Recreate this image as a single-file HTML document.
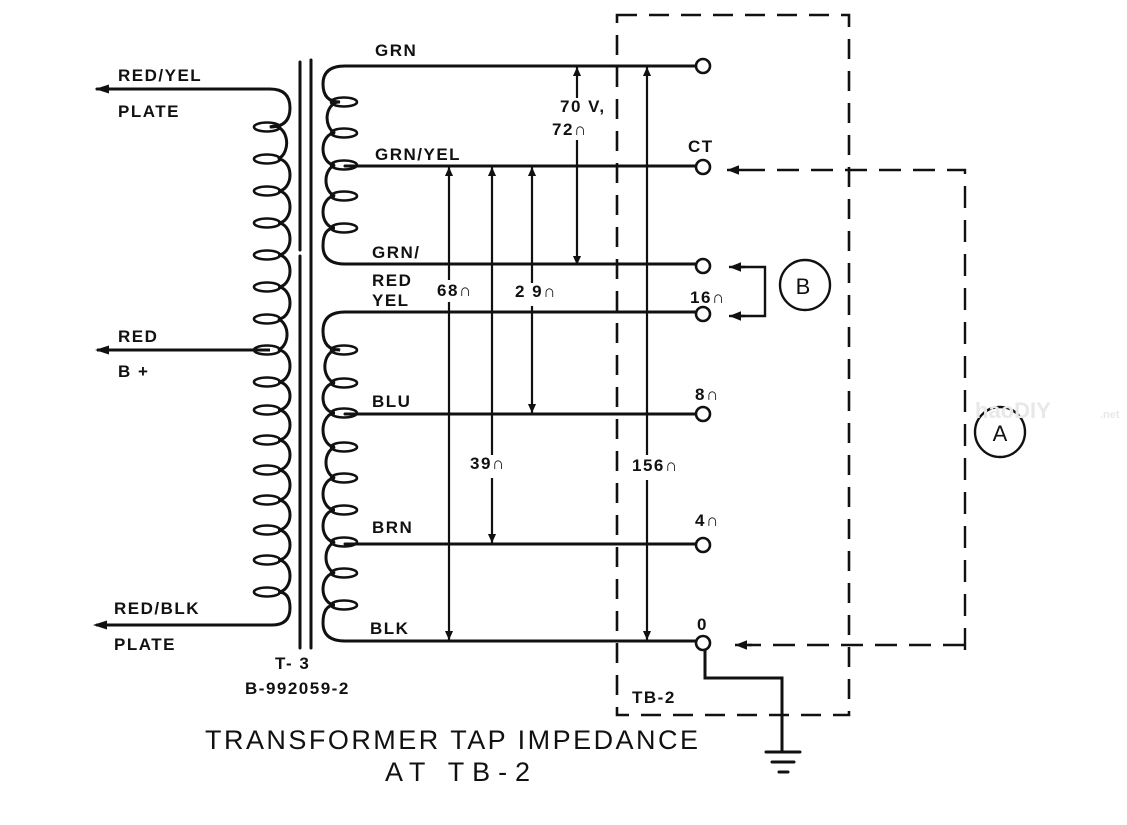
<!DOCTYPE html>
<html><head><meta charset="utf-8"><style>
html,body{margin:0;padding:0;background:#fff}
svg{display:block}
text{font-family:"Liberation Sans",sans-serif;font-weight:bold;fill:#111}
text.n{font-weight:normal}
</style></head><body>
<svg width="1127" height="825" viewBox="0 0 1127 825" xmlns="http://www.w3.org/2000/svg">
<defs>
<marker id="ah" viewBox="0 0 10 10" refX="10" refY="5" markerWidth="14" markerHeight="9" markerUnits="userSpaceOnUse" orient="auto-start-reverse"><path d="M0,0.5 L10,5 L0,9.5 Z" fill="#111"/></marker>
<marker id="ahb" viewBox="0 0 10 10" refX="10" refY="5" markerWidth="16" markerHeight="12" markerUnits="userSpaceOnUse" orient="auto-start-reverse"><path d="M0,1 L10,5 L0,9 Z" fill="#111"/></marker>
</defs>
<g stroke="#111" stroke-width="3" fill="none" stroke-linecap="round">
<path d="M97 89 H270 Q290 89 290 108 Q290 127 270 127
A12 16 0 0 1 278 159 A12 16 0 0 1 278 191 A12 16 0 0 1 278 223 A12 16 0 0 1 278 255 A12 16 0 0 1 278 287 A12 16 0 0 1 278 319 A12 16 0 0 1 278 350
A12 16 0 0 1 278 382 A12 14 0 0 1 278 410 A12 15 0 0 1 278 440 A12 15 0 0 1 278 470 A12 15 0 0 1 278 500 A12 15 0 0 1 278 530 A12 15 0 0 1 278 560 A12 16 0 0 1 278 592
Q290 592 290 608 Q290 625 272 625 H97"/>
<g stroke-width="2.6">
<ellipse cx="267" cy="127" rx="13" ry="4.5"/><ellipse cx="267" cy="159" rx="13" ry="4.5"/><ellipse cx="267" cy="191" rx="13" ry="4.5"/><ellipse cx="267" cy="223" rx="13" ry="4.5"/><ellipse cx="267" cy="255" rx="13" ry="4.5"/><ellipse cx="267" cy="287" rx="13" ry="4.5"/><ellipse cx="267" cy="319" rx="13" ry="4.5"/><ellipse cx="267" cy="350" rx="13" ry="4.5"/><ellipse cx="267" cy="382" rx="13" ry="4.5"/><ellipse cx="267" cy="410" rx="13" ry="4.5"/><ellipse cx="267" cy="440" rx="13" ry="4.5"/><ellipse cx="267" cy="470" rx="13" ry="4.5"/><ellipse cx="267" cy="500" rx="13" ry="4.5"/><ellipse cx="267" cy="530" rx="13" ry="4.5"/><ellipse cx="267" cy="560" rx="13" ry="4.5"/><ellipse cx="267" cy="592" rx="13" ry="4.5"/>
</g>
<path d="M300 62 V250 M300 256 V648 M311 60 V648"/>
<path d="M345 66 Q323 66 323 84 Q323 102 340 102 A12 16 0 0 0 335 133 A12 16 0 0 0 335 165 A12 16 0 0 0 335 196 A12 16 0 0 0 335 228 Q323 228 323 246 Q323 264 345 264"/>
<g stroke-width="2.6">
<ellipse cx="344" cy="102" rx="13" ry="4.5"/><ellipse cx="344" cy="133" rx="13" ry="4.5"/><ellipse cx="344" cy="165" rx="13" ry="4.5"/><ellipse cx="344" cy="196" rx="13" ry="4.5"/><ellipse cx="344" cy="228" rx="13" ry="4.5"/>
<ellipse cx="344" cy="350" rx="13" ry="4.5"/><ellipse cx="344" cy="383" rx="13" ry="4.5"/><ellipse cx="344" cy="413" rx="13" ry="4.5"/><ellipse cx="344" cy="447" rx="13" ry="4.5"/><ellipse cx="344" cy="478" rx="13" ry="4.5"/><ellipse cx="344" cy="510" rx="13" ry="4.5"/><ellipse cx="344" cy="542" rx="13" ry="4.5"/><ellipse cx="344" cy="573" rx="13" ry="4.5"/><ellipse cx="344" cy="605" rx="13" ry="4.5"/>
</g>
<path d="M345 312 Q323 312 323 331 Q323 350 340 350 A12 16 0 0 0 335 383 A12 15 0 0 0 335 413 A12 17 0 0 0 335 447 A12 16 0 0 0 335 478 A12 16 0 0 0 335 510 A12 16 0 0 0 335 542 A12 16 0 0 0 335 573 A12 16 0 0 0 335 605 Q323 605 323 623 Q323 641 345 641"/>
<path d="M345 66 H696 M345 166 H696 M345 264 H696 M345 312 H696 M345 414 H696 M345 544 H696 M345 641 H696"/>
<g stroke-width="2.6" fill="#fff">
<circle cx="703" cy="66" r="7"/><circle cx="703" cy="167" r="7"/><circle cx="703" cy="266" r="7"/><circle cx="703" cy="314" r="7"/><circle cx="703" cy="414" r="7"/><circle cx="703" cy="545" r="7"/><circle cx="703" cy="643" r="7"/>
</g>
<path d="M705 650 V678 H782 V752"/>
<path d="M766 752 H800 M772 762 H794 M779 772 H788"/>
</g>
<g stroke="#111" stroke-width="2.2" fill="none">
<path d="M577 98 V67" marker-end="url(#ah)"/><path d="M577 140 V265" marker-end="url(#ah)"/>
<path d="M449 280 V167" marker-end="url(#ah)"/><path d="M449 302 V640" marker-end="url(#ah)"/>
<path d="M492 455 V167" marker-end="url(#ah)"/><path d="M492 478 V543" marker-end="url(#ah)"/>
<path d="M532 283 V167" marker-end="url(#ah)"/><path d="M532 306 V413" marker-end="url(#ah)"/>
<path d="M647 455 V67" marker-end="url(#ah)"/><path d="M647 480 V640" marker-end="url(#ah)"/>
</g>
<g stroke="#111" stroke-width="2.6" fill="none" stroke-dasharray="20 12">
<path d="M617 15 H849 V715 H617 Z"/>
</g>
<g stroke="#111" stroke-width="2.4" fill="none" stroke-dasharray="22 12">
<path d="M965 650 V170 H745"/>
<path d="M965 645 H748"/>
</g>
<g stroke="#111" stroke-width="2.4" fill="none">
<path d="M745 170 H727" marker-end="url(#ahb)"/>
<path d="M752 645 H735" marker-end="url(#ahb)"/>
<path d="M735 267 H765 V316 H735"/>
<path d="M745 267 H729" marker-end="url(#ahb)"/>
<path d="M745 316 H729" marker-end="url(#ahb)"/>
<circle cx="805" cy="285" r="25"/>
<circle cx="1000" cy="432" r="25"/>
</g>
<path d="M95 89 l14 -4.5 v9 z M95 350 l14 -4.5 v9 z M93 625 l14 -4.5 v9 z" fill="#111"/>
<g stroke="#111" stroke-width="3"><path d="M97 350 H270"/></g>
<text class="n" x="803" y="294" font-size="22" text-anchor="middle">B</text>
<text class="n" x="1000" y="441" font-size="22" text-anchor="middle">A</text>
<text x="975" y="418" font-size="22" style="fill:#e8e8e8">haoDIY</text>
<text x="1100" y="418" font-size="11" style="fill:#e8e8e8">.net</text>
<g font-size="17" letter-spacing="1.5">
<text x="118" y="81">RED/YEL</text>
<text x="118" y="117">PLATE</text>
<text x="118" y="342">RED</text>
<text x="118" y="377">B +</text>
<text x="114" y="614">RED/BLK</text>
<text x="114" y="650">PLATE</text>
<text x="375" y="56">GRN</text>
<text x="375" y="160">GRN/YEL</text>
<text x="372" y="258">GRN/</text>
<text x="372" y="286">RED</text>
<text x="372" y="306">YEL</text>
<text x="372" y="407">BLU</text>
<text x="372" y="533">BRN</text>
<text x="370" y="634">BLK</text>
<text x="275" y="669">T- 3</text>
<text x="245" y="694">B-992059-2</text>
<text x="688" y="152">CT</text>
<text x="690" y="303">16∩</text>
<text x="695" y="400">8∩</text>
<text x="695" y="526">4∩</text>
<text x="697" y="630">0</text>
<text x="632" y="703">TB-2</text>
<text x="560" y="112">70 V,</text>
<text x="552" y="135">72∩</text>
<text x="437" y="296">68∩</text>
<text x="515" y="297">2 9∩</text>
<text x="470" y="469">39∩</text>
<text x="632" y="471">156∩</text>
</g>
<text class="n" x="205" y="749" font-size="27" textLength="493" lengthAdjust="spacing">TRANSFORMER  TAP  IMPEDANCE</text>
<text class="n" x="385" y="781" font-size="27" textLength="145" lengthAdjust="spacing">AT  TB-2</text>
</svg>
</body></html>
